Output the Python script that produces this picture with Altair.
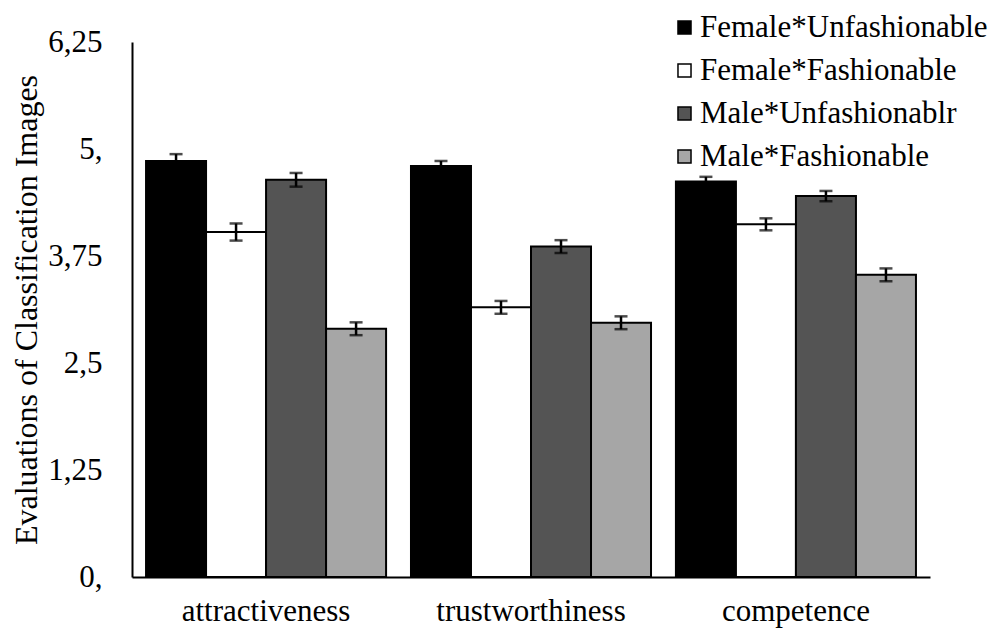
import altair as alt
import pandas as pd

categories = ["attractiveness", "trustworthiness", "competence"]
series = ["Female*Unfashionable", "Female*Fashionable", "Male*Unfashionablr", "Male*Fashionable"]
colors = ["#000000", "#ffffff", "#545454", "#a6a6a6"]

female_unfashionable = [4.86, 4.80, 4.62]
female_fashionable = [4.03, 3.15, 4.12]
male_unfashionable = [4.64, 3.86, 4.45]
male_fashionable = [2.90, 2.97, 3.53]

female_unfashionable_err = [0.08, 0.06, 0.055]
female_fashionable_err = [0.10, 0.075, 0.07]
male_unfashionable_err = [0.08, 0.075, 0.06]
male_fashionable_err = [0.075, 0.075, 0.075]

y_ticks = [0, 1.25, 2.5, 3.75, 5, 6.25]

rows = []
for s, vals, errs in zip(
    series,
    [female_unfashionable, female_fashionable, male_unfashionable, male_fashionable],
    [female_unfashionable_err, female_fashionable_err, male_unfashionable_err, male_fashionable_err],
):
    for c, v, e in zip(categories, vals, errs):
        rows.append({"category": c, "series": s, "value": v, "lo": v - e, "hi": v + e})
df = pd.DataFrame(rows)

FONT = "Liberation Serif"

x_enc = alt.X(
    "category:N",
    sort=categories,
    scale=alt.Scale(paddingInner=0.094, paddingOuter=0.053),
    axis=alt.Axis(
        title=None,
        labelAngle=0,
        ticks=False,
        labelPadding=19,
        labelLimit=500,
        labelFont=FONT,
        labelFontSize=31,
        labelColor="black",
        domainColor="black",
        domainWidth=2,
    ),
)
xoff_enc = alt.XOffset("series:N", sort=series, scale=alt.Scale(paddingInner=0, paddingOuter=0))

y_scale = alt.Scale(domain=[0, 6.25], nice=False)

base = alt.Chart(df).encode(x=x_enc, xOffset=xoff_enc)

bars = base.mark_bar(stroke="black", strokeWidth=2).encode(
    y=alt.Y(
        "value:Q",
        scale=y_scale,
        axis=alt.Axis(
            values=y_ticks,
            labelExpr="datum.value % 1 == 0 ? format(datum.value, 'd') + ',' : replace(format(datum.value, '~g'), '.', ',')",
            grid=False,
            ticks=False,
            labelPadding=30,
            labelFont=FONT,
            labelFontSize=31,
            labelColor="black",
            domainColor="black",
            domainWidth=2,
            title="Evaluations of Classification Images",
            titleFont=FONT,
            titleFontSize=32,
            titleFontWeight="normal",
            titleColor="black",
            titlePadding=4,
        ),
    ),
    color=alt.Color(
        "series:N",
        sort=series,
        scale=alt.Scale(domain=series, range=colors),
        legend=alt.Legend(
            orient="none",
            legendX=537,
            legendY=-30,
            title=None,
            labelFont=FONT,
            labelFontSize=31,
            labelColor="black",
            labelLimit=500,
            symbolType="square",
            symbolSize=170,
            symbolStrokeColor="black",
            symbolStrokeWidth=1.5,
            rowPadding=11,
            labelOffset=0,
            padding=0,
        ),
    ),
)

rules = base.mark_rule(color="black", strokeWidth=2.5).encode(
    y=alt.Y("lo:Q", scale=y_scale), y2="hi:Q"
)
caps_lo = base.mark_tick(color="black", size=13, thickness=2.5).encode(
    y=alt.Y("lo:Q", scale=y_scale)
)
caps_hi = base.mark_tick(color="black", size=13, thickness=2.5).encode(
    y=alt.Y("hi:Q", scale=y_scale)
)

chart = (
    alt.layer(bars, rules, caps_lo, caps_hi)
    .properties(
        width=798,
        height=535,
        autosize=alt.AutoSizeParams(type="none"),
        padding={"left": 124, "top": 34, "right": 60, "bottom": 53},
    )
    .configure_view(stroke=None)
)

chart.save("out.html", embed_options={"renderer": "svg", "actions": False})
